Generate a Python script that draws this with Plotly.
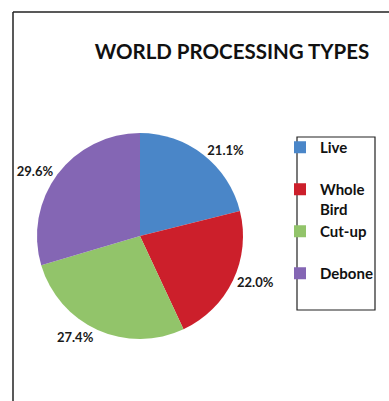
import plotly.graph_objects as go

categories = ["Live", "Whole Bird", "Cut-up", "Debone"]
legend_labels = ["Live<br>\u00a0", "Whole<br>Bird", "Cut-up<br>\u00a0", "Debone<br>\u00a0"]
values = [21.1, 22.0, 27.4, 29.6]
colors = ["#4A86C8", "#CC1F2B", "#92C46A", "#8466B4"]

W, H = 389, 401
cx, cy, r = 140, 236, 103

fig = go.Figure(go.Pie(
    labels=legend_labels,
    values=values,
    sort=False,
    direction="clockwise",
    rotation=0,
    marker=dict(colors=colors, line=dict(width=0)),
    texttemplate="%{value:.1f}%",
    textposition="outside",
    textfont=dict(family="Lato", size=13, color="#1a1a1a", weight="bold"),
    domain=dict(x=[(cx - r) / W, (cx + r) / W], y=[1 - (cy + r) / H, 1 - (cy - r) / H]),
    showlegend=True,
    hoverinfo="skip",
))

fig.update_layout(
    width=W, height=H,
    margin=dict(l=0, r=0, t=0, b=0, autoexpand=False),
    paper_bgcolor="white",
    plot_bgcolor="white",
    title=dict(text="WORLD PROCESSING TYPES", x=232 / W, xanchor="center", y=1 - 52 / H, yanchor="middle",
               font=dict(family="Lato", size=20.5, color="#111111", weight="bold")),
    legend=dict(xref="container", yref="container", x=280 / W, xanchor="left", y=1 - 131 / H, yanchor="top",
                borderwidth=0, bgcolor="rgba(0,0,0,0)", valign="top",
                font=dict(family="Lato", size=15, color="#111111", weight="bold"),
                itemwidth=30, traceorder="normal"),
    shapes=[
        dict(type="line", xref="paper", yref="paper", x0=13 / W, x1=1.02, y0=1 - 12 / H, y1=1 - 12 / H,
             line=dict(color="#222222", width=1.5)),
        dict(type="line", xref="paper", yref="paper", x0=13 / W, x1=13 / W, y0=1 - 12 / H, y1=-0.02,
             line=dict(color="#222222", width=1.5)),
        dict(type="rect", xref="paper", yref="paper", x0=297 / W, x1=375 / W, y0=1 - 310 / H, y1=1 - 137 / H,
             line=dict(color="#222222", width=1.2), layer="below"),
    ],
)

fig.write_html("out.html")
